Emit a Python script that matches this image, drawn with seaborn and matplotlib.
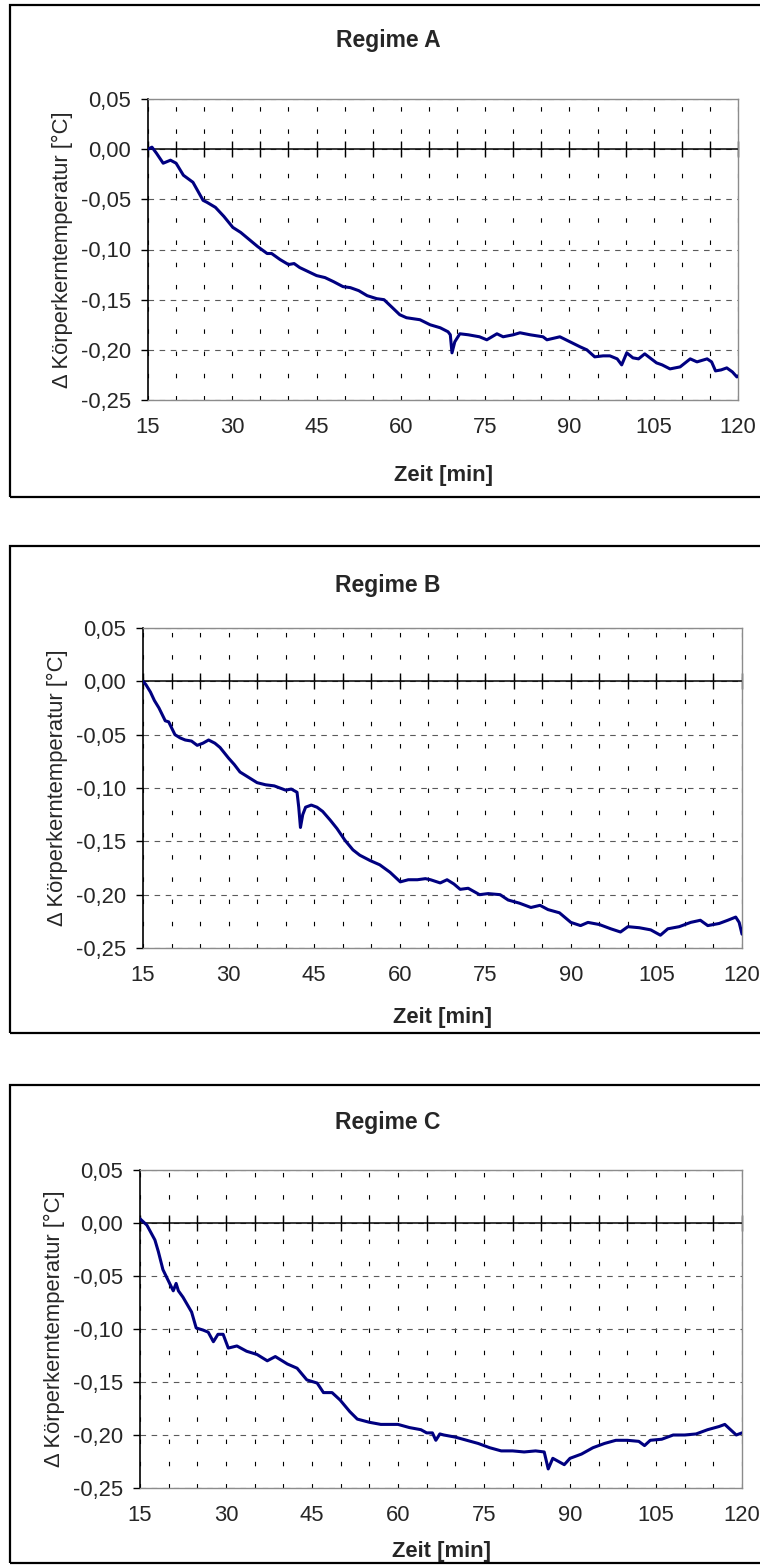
import numpy as np
import matplotlib
matplotlib.use('Agg')
import matplotlib.pyplot as plt
from matplotlib.patches import Rectangle
import seaborn as sns

# --- data ---
titles = ['Regime A', 'Regime B', 'Regime C']
y_ticks = [0.05, 0.00, -0.05, -0.10, -0.15, -0.20, -0.25]
y_tick_labels = ['0,05', '0,00', '-0,05', '-0,10', '-0,15', '-0,20', '-0,25']
x_ticks = [15, 30, 45, 60, 75, 90, 105, 120]
x_tick_labels = ['15', '30', '45', '60', '75', '90', '105', '120']

t_a = [15, 15.7, 16.5, 17.7, 19, 20, 21.3, 23, 24.2, 24.8, 25.5, 27, 28.5, 30.1, 31.5, 33, 34.5, 36.2, 37, 38.5,
       40, 41, 42, 43.5, 45, 46.5, 48, 49.7, 51, 52.5, 54, 55.7, 57, 58.5, 59.8, 61, 63.4, 65.2, 67, 68.4,
       68.8, 69.1, 69.6, 70.5, 72, 74, 75.3, 77.1, 78.2, 80, 81.2, 83, 85.3, 86, 88.3, 90.1, 91.9, 93.1, 94.5, 96,
       97.2, 98.5, 99.3, 100.2, 101.3, 102.3, 103.4, 105.5, 106.5, 107.9, 109.7, 111.5, 112.7, 114.5, 115.3, 116,
       117, 118, 119, 119.8, 120]
v_a = [0, 0.002, -0.004, -0.014, -0.011, -0.014, -0.026, -0.033, -0.045, -0.051, -0.053, -0.058, -0.067, -0.078,
       -0.083, -0.09, -0.097, -0.104, -0.104, -0.11, -0.115, -0.114, -0.118, -0.122, -0.126, -0.128, -0.132, -0.137,
       -0.138, -0.141, -0.146, -0.149, -0.15, -0.158, -0.165, -0.168, -0.170, -0.175, -0.178, -0.182, -0.185, -0.203,
       -0.192, -0.184, -0.185, -0.187, -0.19, -0.184, -0.187, -0.185, -0.183, -0.185, -0.187, -0.19, -0.187, -0.192,
       -0.197, -0.2, -0.207, -0.206, -0.206, -0.209, -0.215, -0.203, -0.208, -0.209, -0.204, -0.213, -0.215, -0.219,
       -0.217, -0.209, -0.212, -0.209, -0.212, -0.221, -0.220, -0.218, -0.222, -0.227, -0.226]

t_b = [15, 15.5, 16.3, 17, 17.8, 18.9, 19.5, 20.6, 21.5, 22.4, 23.5, 24.5, 25.5, 26.5, 27.6, 28.5, 30, 31, 32, 33.8,
       35, 36.5, 38, 39, 40, 41, 42, 42.3, 42.6, 43, 43.5, 44.5, 45.5, 46.5, 47.8, 49, 50.4, 51.8, 53, 54.8,
       56.5, 58.3, 60.1, 61.5, 63.1, 64.5, 65.4, 67.1, 68.3, 69.5, 70.6, 72, 74, 75.5, 77.6, 79, 81, 83, 84.6, 86,
       88, 90, 91.7, 93, 95, 97, 98.7, 100, 102, 104, 105.7, 107, 109, 111, 112.7, 114, 116, 117.5, 118.9, 119.5, 120]
v_b = [0, -0.003, -0.01, -0.018, -0.025, -0.037, -0.038, -0.05, -0.053, -0.055, -0.056, -0.06, -0.058, -0.055,
       -0.058, -0.062, -0.072, -0.078, -0.085, -0.091, -0.095, -0.097, -0.098, -0.1, -0.102, -0.101, -0.104, -0.118,
       -0.137, -0.125, -0.118, -0.116, -0.118, -0.122, -0.13, -0.138, -0.149, -0.158, -0.163, -0.168, -0.172, -0.179,
       -0.188, -0.186, -0.186, -0.185, -0.186, -0.189, -0.186, -0.19, -0.195, -0.194, -0.2, -0.199, -0.2, -0.205,
       -0.208, -0.212, -0.21, -0.214, -0.217, -0.226, -0.229, -0.226, -0.228, -0.232, -0.235, -0.23, -0.231, -0.233,
       -0.238, -0.232, -0.23, -0.226, -0.224, -0.229, -0.227, -0.224, -0.221, -0.226, -0.237]

t_c = [15, 16.2, 17.6, 18.2, 19, 19.9, 20.8, 21.3, 21.7, 22.5, 24, 24.8, 26, 26.9, 27.8, 28.6, 29.5, 30.4, 31.9, 33.6,
       35.4, 37.2, 38.6, 40.7, 42.4, 44.1, 45.9, 47, 48.5, 49.9, 51.6, 52.9, 55, 57, 60, 62, 64, 65, 66, 66.6,
       67.3, 68, 70, 72, 74, 76, 78, 80, 82, 84, 85.5, 86.2, 87, 88, 89, 90, 92, 94, 96, 98,
       100, 102, 103, 104, 106, 108, 110, 112, 114, 116, 117, 118, 119, 120]
v_c = [0.004, -0.002, -0.016, -0.027, -0.044, -0.054, -0.064, -0.057, -0.064, -0.07, -0.084, -0.099, -0.101, -0.103,
       -0.112, -0.105, -0.105, -0.118, -0.116, -0.121, -0.124, -0.13, -0.126, -0.133, -0.137, -0.148, -0.151, -0.16,
       -0.16, -0.167, -0.178, -0.185, -0.188, -0.19, -0.19, -0.193, -0.195, -0.198, -0.198, -0.205, -0.199, -0.2,
       -0.202, -0.205, -0.208, -0.212, -0.215, -0.215, -0.216, -0.215, -0.216, -0.232, -0.222, -0.225, -0.228, -0.222,
       -0.218, -0.212, -0.208, -0.205, -0.205, -0.206, -0.21, -0.205, -0.204, -0.2, -0.2, -0.199, -0.195, -0.192,
       -0.19, -0.195, -0.2, -0.198]

series = [(t_a, v_a), (t_b, v_b), (t_c, v_c)]

# --- layout in pixels (top-left origin) ---
W, H = 760, 1566
boxes = [(10, 5, 497), (10, 546, 1033), (10, 1085, 1563)]          # left, top, bottom
axes_px = [(148, 99, 738, 400), (143, 628, 742, 948), (140, 1170, 742, 1488)]
title_y = [40, 585, 1122]
xlabel_pad = [20, 15, 11]

sns.set_style('white')
plt.rcParams['font.family'] = ['Liberation Sans', 'DejaVu Sans']
FS = 15.8

fig = plt.figure(figsize=(W / 100, H / 100), dpi=100)

for i, ((t, v), (l, tp, r, b)) in enumerate(zip(series, axes_px)):
    bl, bt, bb = boxes[i]
    fig.patches.append(Rectangle((bl / W, 1 - bb / H), (W + 5 - bl) / W, (bb - bt) / H,
                                 transform=fig.transFigure, fill=False, ec='black', lw=1.6))
    fig.text(388 / W, 1 - title_y[i] / H, titles[i], ha='center', va='center',
             fontsize=16.5, fontweight='bold')

    ax = fig.add_axes([l / W, 1 - b / H, (r - l) / W, (b - tp) / H])
    ax.set_xlim(15, 120)
    ax.set_ylim(-0.25, 0.05)

    ax.set_xticks(np.arange(15, 121, 5), minor=True)
    ax.set_xticks(x_ticks)
    ax.set_xticklabels(x_tick_labels, fontsize=FS)
    ax.set_yticks(y_ticks)
    ax.set_yticklabels(y_tick_labels, fontsize=FS)

    ax.xaxis.grid(True, which='both', color='black', lw=0.8, linestyle=(0, (4, 16)))
    ax.yaxis.grid(True, which='major', color='#5a5a5a', lw=0.8, linestyle=(0, (5, 5)))
    ax.set_axisbelow(True)

    ax.tick_params(axis='x', which='both', length=0, pad=12)
    ax.tick_params(axis='y', which='major', length=5, width=1, color='black',
                   direction='out', pad=7, left=True)

    for side in ['top', 'right', 'bottom']:
        ax.spines[side].set_color('#8c8c8c')
        ax.spines[side].set_linewidth(1)
    ax.spines['left'].set_color('black')
    ax.spines['left'].set_linewidth(1.2)

    # x axis crossing at zero with cross ticks
    ax.axhline(0, color='black', lw=1.1, zorder=2)
    sec = ax.secondary_xaxis(0.25 / 0.30)
    sec.set_xticks(np.arange(15, 121, 5))
    sec.set_xticklabels([])
    sec.tick_params(axis='x', direction='inout', length=12, width=1, color='black')
    sec.spines['bottom'].set_visible(False)
    sec.spines['top'].set_visible(False)

    sns.lineplot(x=t, y=v, ax=ax, color='#000080', lw=2.2, zorder=3)

    ax.set_xlabel('Zeit [min]', fontsize=FS, fontweight='bold', labelpad=xlabel_pad[i])
    ax.set_ylabel('\u0394 Körperkerntemperatur [°C]', fontsize=FS, labelpad=6)

fig.savefig('out.png', dpi=100)
